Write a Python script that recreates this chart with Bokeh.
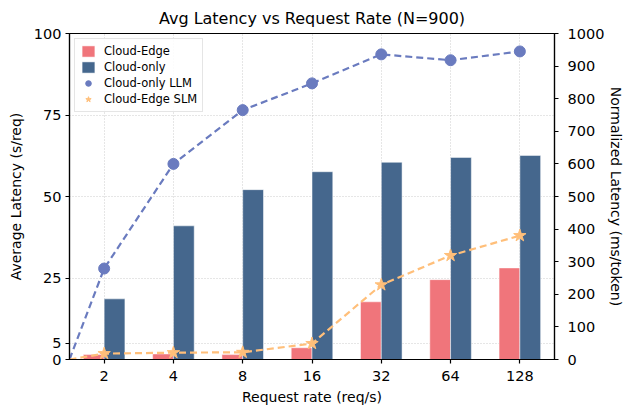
from bokeh.plotting import figure
from bokeh.models import (ColumnDataSource, Range1d, LinearAxis, FixedTicker,
                          Legend, LegendItem)
from bokeh.embed import file_html
from bokeh.resources import INLINE

# ---- data ----
rates = ["2", "4", "8", "16", "32", "64", "128"]
cloud_edge_latency = [1.5, 1.7, 1.5, 3.6, 17.7, 24.5, 28.1]      # s/req
cloud_only_latency = [18.6, 41.0, 52.1, 57.6, 60.5, 62.0, 62.6]  # s/req
cloud_only_llm_norm = [279, 600, 765, 847, 936, 918, 945]        # ms/token
cloud_edge_slm_norm = [18, 21, 22, 49, 229, 319, 380]            # ms/token
left_ticks = [0, 5, 25, 50, 75, 100]
right_ticks = [0, 100, 200, 300, 400, 500, 600, 700, 800, 900, 1000]

FONT = "DejaVu Sans"
PINK = "#F0757B"
BLUE = "#45678D"
LLM_C = "#6A7BBF"
SLM_C = "#FFBF7A"

idx = list(range(len(rates)))
x_start, x_end = -0.5, len(rates) - 0.5
bar_w = 0.3

src = ColumnDataSource(dict(
    xe=[i - bar_w / 2 for i in idx],
    xo=[i + bar_w / 2 for i in idx],
    edge=cloud_edge_latency,
    only=cloud_only_latency,
    xi=idx,
    llm=cloud_only_llm_norm,
    slm=cloud_edge_slm_norm,
))
# lines start from the origin at the left edge
line_src = ColumnDataSource(dict(
    x=[x_start] + idx,
    llm=[0] + cloud_only_llm_norm,
    slm=[0] + cloud_edge_slm_norm,
))

p = figure(width=621, height=399, output_backend="svg", toolbar_location=None,
           x_range=Range1d(x_start, x_end), y_range=Range1d(0, 100),
           frame_width=485, frame_height=326,
           min_border_left=69, min_border_right=67, min_border_top=31,
           min_border_bottom=42,
           title="Avg Latency vs Request Rate (N=900)")
p.extra_y_ranges = {"norm": Range1d(0, 1000)}

p.title.align = "center"
p.title.text_font = FONT
p.title.text_font_size = "16px"
p.title.text_font_style = "normal"
p.title.text_color = "black"
p.title.standoff = 12

p.outline_line_color = "black"
p.outline_line_width = 1.2
p.outline_line_alpha = 1
p.background_fill_color = "white"
p.border_fill_color = "white"

# grid
p.xgrid.ticker = FixedTicker(ticks=idx)
p.ygrid.ticker = FixedTicker(ticks=left_ticks)
for g in (p.xgrid, p.ygrid):
    g.grid_line_color = "#b0b0b0"
    g.grid_line_dash = "1 2"
    g.grid_line_width = 0.8
    g.grid_line_alpha = 0.8

def style_axis(ax):
    ax.axis_line_color = "black"
    ax.axis_line_width = 1.2
    ax.major_tick_line_color = "black"
    ax.major_tick_line_width = 1.2
    ax.major_tick_out = 4
    ax.major_tick_in = 0
    ax.minor_tick_line_color = None
    ax.major_label_text_font = FONT
    ax.major_label_text_font_size = "14.5px"
    ax.major_label_text_color = "black"
    ax.axis_label_text_font = FONT
    ax.axis_label_text_font_size = "14px"
    ax.axis_label_text_font_style = "normal"
    ax.axis_label_text_color = "black"
    ax.major_label_standoff = 4
    ax.axis_label_standoff = 7

xa = p.xaxis[0]
xa.ticker = FixedTicker(ticks=idx)
xa.major_label_overrides = {i: r for i, r in zip(idx, rates)}
xa.axis_label = "Request rate (req/s)"
style_axis(xa)
xa.major_label_standoff = 7
xa.axis_label_standoff = 5

ya = p.yaxis[0]
ya.ticker = FixedTicker(ticks=left_ticks)
ya.axis_label = "Average Latency (s/req)"
style_axis(ya)

ra = LinearAxis(y_range_name="norm", ticker=FixedTicker(ticks=right_ticks),
                axis_label="Normalized Latency (ms/token)")
style_axis(ra)
ra.major_label_standoff = 9
ra.axis_label_standoff = 1
p.add_layout(ra, "right")

# bars
r_edge = p.vbar(x="xe", top="edge", width=bar_w, source=src, fill_color=PINK,
                fill_alpha=1, line_color="white", line_alpha=0.5, line_width=1)
r_only = p.vbar(x="xo", top="only", width=bar_w, source=src, fill_color=BLUE,
                fill_alpha=1, line_color="white", line_alpha=0.5, line_width=1)

# lines
p.line(x="x", y="llm", source=line_src, y_range_name="norm", line_color=LLM_C,
       line_width=2.2, line_dash="7 4")
r_llm = p.scatter(x="xi", y="llm", source=src, y_range_name="norm", marker="circle",
                  size=11, fill_color=LLM_C, line_color=LLM_C)
p.line(x="x", y="slm", source=line_src, y_range_name="norm", line_color=SLM_C,
       line_width=2.2, line_dash="7 4")
r_slm = p.scatter(x="xi", y="slm", source=src, y_range_name="norm", marker="star",
                  size=13, fill_color=SLM_C, line_color=SLM_C)

legend = Legend(items=[
    LegendItem(label="Cloud-Edge", renderers=[r_edge]),
    LegendItem(label="Cloud-only", renderers=[r_only]),
    LegendItem(label="Cloud-only LLM", renderers=[r_llm]),
    LegendItem(label="Cloud-Edge SLM", renderers=[r_slm]),
], location="top_left")
legend.label_text_font = FONT
legend.label_text_font_size = "11.5px"
legend.label_text_color = "black"
legend.glyph_width = 16
legend.glyph_height = 14
legend.label_height = 14
legend.spacing = 2
legend.padding = 5
legend.margin = 5
legend.label_standoff = 8
legend.border_line_color = "#cccccc"
legend.border_line_width = 1
legend.background_fill_alpha = 0.85
p.add_layout(legend)

open("out.html", "w").write(file_html(p, INLINE))
